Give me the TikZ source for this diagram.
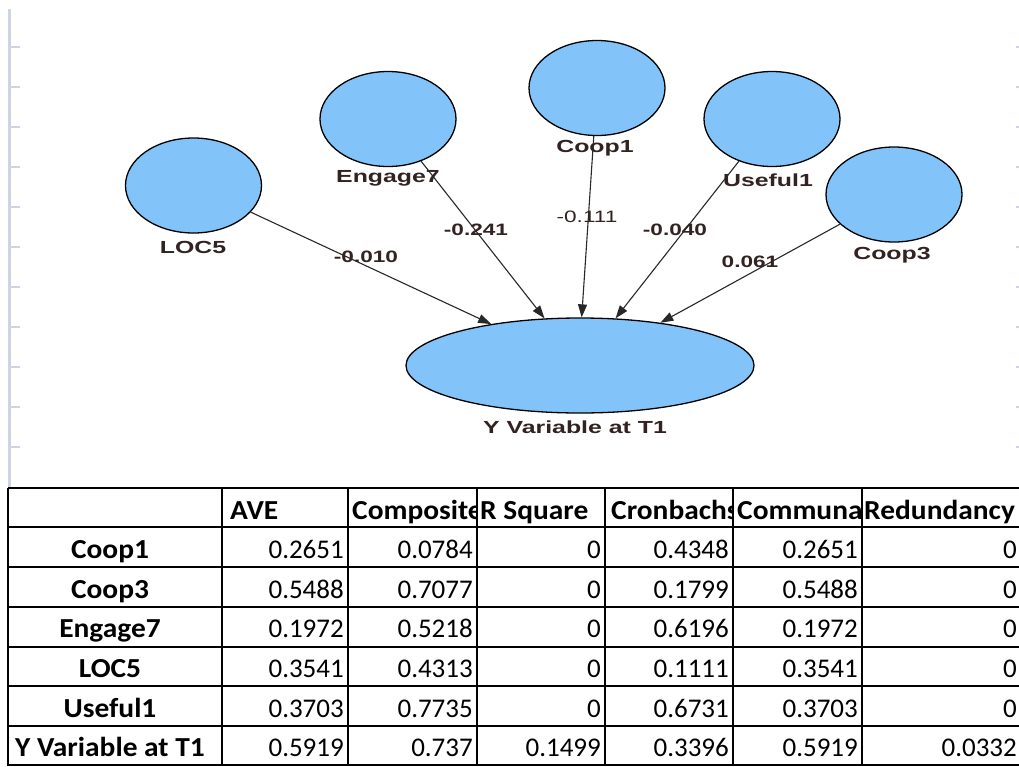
\documentclass[tikz,border=0pt]{standalone}
\usepackage{fontspec}
\setmainfont{Liberation Sans}
\newfontfamily\calfont{Carlito}
\usetikzlibrary{shapes.geometric,arrows.meta}

\definecolor{bubble}{RGB}{130,196,250}
\definecolor{rulegray}{RGB}{205,213,229}
\definecolor{lbl}{RGB}{50,34,34}
\definecolor{edgegray}{RGB}{40,40,40}

% horizontally stretched text
\newcommand\widetext[2]{\scalebox{#1}[1]{#2}}

\begin{document}
\begin{tikzpicture}[x=1pt,y=-1pt,
  latent/.style={ellipse,draw=black,line width=1.3pt,fill=bubble,inner sep=0pt},
  smallvar/.style={latent,minimum width=136pt,minimum height=95pt},
  bigvar/.style={latent,minimum width=348pt,minimum height=95pt},
  varname/.style={text=lbl,font=\fontsize{17.5}{18}\selectfont\bfseries,inner sep=0pt},
  coefbold/.style={text=lbl,font=\fontsize{16.5}{17}\selectfont\bfseries,inner sep=0pt},
  coefthin/.style={text=lbl,font=\fontsize{16.5}{17}\selectfont,inner sep=0pt},
  pathline/.style={draw=edgegray,line width=1.1pt,-{Triangle[length=13pt,width=9pt]}},
  gridline/.style={line width=2.6pt,black},
  hdr/.style={font=\calfont\fontsize{27.5}{28}\selectfont\bfseries,anchor=base west,inner sep=0pt},
  rowname/.style={font=\calfont\fontsize{27.5}{28}\selectfont\bfseries,anchor=base,inner sep=0pt},
  num/.style={font=\calfont\fontsize{27}{27}\selectfont,anchor=base east,inner sep=0pt},
  tick/.style={rulegray,line width=2pt}
]
\useasboundingbox (0,0) rectangle (1019,766);
\fill[white] (0,0) rectangle (1019,766);

% slide ruler on the left and tick marks on the right
\draw[rulegray,line width=3pt] (9,9) -- (9,488);
\foreach \t in {47,87,...,447} {
  \draw[tick] (10,\t) -- (20,\t);
  \draw[tick] (1016,\t) -- (1019,\t);
}

% latent variables
\node[smallvar] (loc5)   at (193.5,185.5) {};
\node[smallvar] (engage) at (388,119) {};
\node[smallvar] (coop1)  at (597,88) {};
\node[smallvar] (useful) at (772,119) {};
\node[smallvar] (coop3)  at (894,194.5) {};
\node[bigvar]   (yvar)   at (580,365.5) {};

% variable names
\node[varname] (loc5name)   at (193,247) {\widetext{1.42}{LOC5}};
\node[varname] (engagename) at (388,178) {\widetext{1.42}{Engage7}};
\node[varname] (coop1name)  at (595,148) {\widetext{1.42}{Coop1}};
\node[varname] (usefulname) at (768,180) {\widetext{1.42}{Useful1}};
\node[varname] (coop3name)  at (892,255) {\widetext{1.42}{Coop3}};
\node[varname] (yvarname)   at (575,427) {\widetext{1.42}{Y Variable at T1}};

% structural paths
\draw[pathline] (loc5)   -- (yvar.155);
\draw[pathline] (engage) -- (yvar.127);
\draw[pathline] (coop1)  -- (yvar.88);
\draw[pathline] (useful) -- (yvar.53);
\draw[pathline] (coop3)  -- (yvar.28);

% path coefficients
\node[coefbold] (c1) at (366,257) {\widetext{1.37}{-0.010}};
\node[coefbold] (c2) at (476,230) {\widetext{1.37}{-0.241}};
\node[coefthin] (c3) at (587,217) {\widetext{1.37}{-0.111}};
\node[coefbold] (c4) at (675,230) {\widetext{1.37}{-0.040}};
\node[coefbold] (c5) at (750,262) {\widetext{1.37}{0.061}};

% quality criteria table: grid
\foreach \r in {488,527,567,607,647,686,726} {
  \draw[gridline] (8,\r) -- (1019,\r);
}
\draw[line width=2pt] (8,765) -- (1019,765);
\foreach \c in {8,222,348,477,605,733,862} {
  \draw[gridline] (\c,488) -- (\c,766);
}

% header cells (overflowing text is cut at the next cell)
\node[hdr] (hAVE) at (230,519) {\widetext{1.07}{AVE}};
\begin{scope}
  \clip (348,488) rectangle (477,527);
  \node[hdr] (hComp) at (352,519) {\widetext{1.07}{Composite Reliability}};
\end{scope}
\node[hdr] (hRsq) at (480,519) {\widetext{1.07}{R Square}};
\begin{scope}
  \clip (605,488) rectangle (733,527);
  \node[hdr] (hCron) at (611,519) {\widetext{1.07}{Cronbachs Alpha}};
\end{scope}
\begin{scope}
  \clip (733,488) rectangle (862,527);
  \node[hdr] (hComm) at (737,519) {\widetext{1.07}{Communality}};
\end{scope}
\node[hdr] (hRed) at (864,519) {\widetext{1.07}{Redundancy}};

% body rows
\foreach \name/\ave/\comp/\rsq/\cron/\comm/\red [count=\i] in {
  Coop1/0.2651/0.0784/0/0.4348/0.2651/0,
  Coop3/0.5488/0.7077/0/0.1799/0.5488/0,
  Engage7/0.1972/0.5218/0/0.6196/0.1972/0,
  LOC5/0.3541/0.4313/0/0.1111/0.3541/0,
  Useful1/0.3703/0.7735/0/0.6731/0.3703/0,
  Y Variable at T1/0.5919/0.737/0.1499/0.3396/0.5919/0.0332} {
  \pgfmathsetmacro\yb{527+39.6*\i-8}
  \node[rowname] (r\i n) at (110,\yb) {\widetext{1.07}{\name}};
  \node[num] (r\i a) at (344,\yb) {\ave};
  \node[num] (r\i b) at (473,\yb) {\comp};
  \node[num] (r\i c) at (601,\yb) {\rsq};
  \node[num] (r\i d) at (729,\yb) {\cron};
  \node[num] (r\i e) at (858,\yb) {\comm};
  \node[num] (r\i f) at (1017,\yb) {\red};
}
\end{tikzpicture}
\end{document}
